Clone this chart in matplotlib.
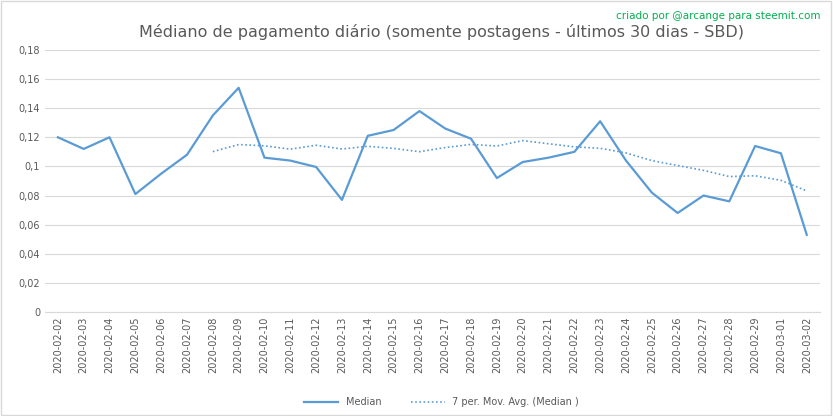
import matplotlib
matplotlib.use("Agg")
import matplotlib.pyplot as plt
import pandas as pd

dates = ["2020-02-%02d" % d for d in range(2, 30)] + ["2020-03-01", "2020-03-02"]
median = [0.120, 0.112, 0.120, 0.081, 0.095, 0.108, 0.135, 0.154, 0.106, 0.104,
          0.0996, 0.077, 0.121, 0.125, 0.138, 0.126, 0.119, 0.092, 0.103, 0.106,
          0.110, 0.131, 0.104, 0.082, 0.068, 0.080, 0.076, 0.114, 0.109, 0.053]
yticks = [0, 0.02, 0.04, 0.06, 0.08, 0.1, 0.12, 0.14, 0.16, 0.18]
ylabels = ["0", "0,02", "0,04", "0,06", "0,08", "0,1", "0,12", "0,14", "0,16", "0,18"]

mavg = pd.Series(median).rolling(7).mean()

fig = plt.figure(figsize=(8.33, 4.16), dpi=100)
ax = fig.add_axes([0.054, 0.25, 0.93, 0.63])
x = list(range(len(dates)))
col = "#5B9BD5"
ax.plot(x, median, color=col, lw=1.6, label="Median")
ax.plot(x, mavg, color=col, lw=1.2, ls=(0, (1, 1.5)), label="7 per. Mov. Avg. (Median )")
ax.set_xlim(-0.5, len(dates) - 0.5)
ax.set_ylim(0, 0.18)
ax.set_yticks(yticks)
ax.set_yticklabels(ylabels, fontsize=7, color="#595959")
ax.set_xticks(x)
ax.set_xticklabels(dates, rotation=90, fontsize=7, color="#595959")
ax.grid(axis="y", color="#D9D9D9", lw=0.8)
ax.set_axisbelow(True)
for s in ["top", "right", "left"]:
    ax.spines[s].set_visible(False)
ax.spines["bottom"].set_color("#D9D9D9")
ax.tick_params(length=0)
fig.text(0.53, 0.91, "Médiano de pagamento diário (somente postagens - últimos 30 dias - SBD)",
         ha="center", fontsize=11.5, color="#595959")
fig.text(0.985, 0.955, "criado por @arcange para steemit.com", ha="right", fontsize=7.5, color="#00B050")
fig.legend(loc="lower center", ncol=2, frameon=False, fontsize=7, bbox_to_anchor=(0.53, 0.0),
           labelcolor="#595959", handlelength=3.5, columnspacing=3)
fig.patches.append(plt.Rectangle((0.001, 0.002), 0.997, 0.995, transform=fig.transFigure,
                                 fill=False, edgecolor="#D9D9D9", lw=1))
fig.savefig("out.png", dpi=100)
